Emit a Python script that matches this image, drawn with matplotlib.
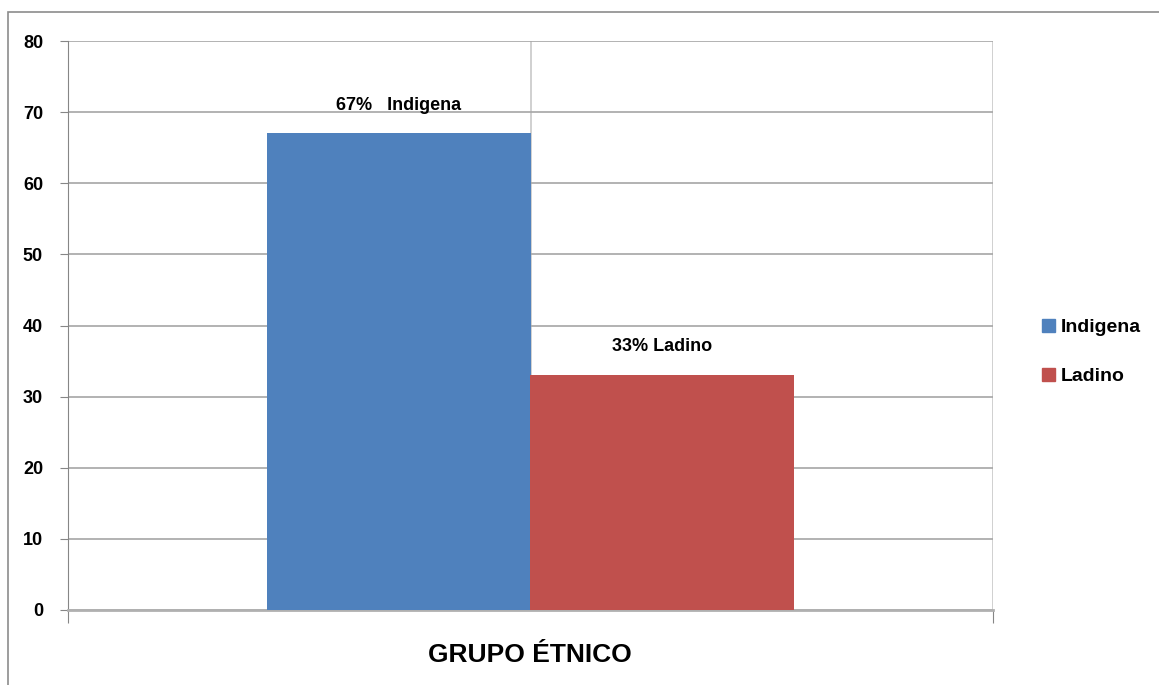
import matplotlib.pyplot as plt
from matplotlib.patches import Rectangle, Patch

# data
categories = ['Indigena', 'Ladino']
values = [67, 33]
bar_labels = ['67%   Indigena', '33% Ladino']
colors = ['#4F81BD', '#C0504D']
yticks = [0, 10, 20, 30, 40, 50, 60, 70, 80]
xlabel = 'GRUPO ÉTNICO'

plt.rcParams['font.family'] = ['Liberation Sans', 'DejaVu Sans']
plt.rcParams['font.weight'] = 'bold'

fig = plt.figure(figsize=(11.59, 6.85), dpi=100)
ax = fig.add_axes([68 / 1159, 1 - 610 / 685, 925 / 1159, 569 / 685])

# outer chart border
fig.patches.append(Rectangle((8 / 1159, -0.05), 1.1, 1 - 12 / 685 + 0.05,
                             transform=fig.transFigure, fill=False,
                             edgecolor='#8c8c8c', linewidth=1.2))

width = 0.285
xs = [0.5 - width / 2, 0.5 + width / 2]
bars = ax.bar(xs, values, width=width, color=colors, zorder=3)

for x, v, lab in zip(xs, values, bar_labels):
    ax.text(x, v + 4, lab, ha='center', va='center', fontsize=13,
            fontweight='bold')

ax.set_xlim(0, 1)
ax.set_ylim(0, 80)
ax.set_yticks(yticks)
ax.set_yticklabels([str(t) for t in yticks], fontsize=13, fontweight='bold')
ax.tick_params(axis='y', length=6, color='#868686', pad=12)
ax.set_xticks([0, 1])
ax.set_xticklabels(['', ''])
ax.tick_params(axis='x', length=9, color='#868686')

ax.grid(axis='y', color='#a6a6a6', linewidth=1.2, zorder=0)
ax.axvline(0.5, color='#c8c8c8', linewidth=1.2, zorder=1)
for side in ['top', 'right']:
    ax.spines[side].set_visible(False)
ax.spines['left'].set_color('#868686')
ax.spines['bottom'].set_color('#b0b0b0')
ax.spines['bottom'].set_linewidth(2)
ax.plot([1, 1], [0, 80], color='#c8c8c8', linewidth=1.2, zorder=1)

fig.text(530 / 1159, 1 - 655 / 685, xlabel, ha='center', va='center',
         fontsize=19, fontweight='bold')

handles = [Patch(color=c, label=l) for c, l in zip(colors, categories)]
fig.legend(handles=handles, loc='center left',
           bbox_to_anchor=(1024 / 1159, 1 - 352 / 685), frameon=False,
           fontsize=14, handlelength=0.7, handleheight=0.7,
           handletextpad=0.3, labelspacing=1.6)

fig.savefig('out.png', dpi=100)
